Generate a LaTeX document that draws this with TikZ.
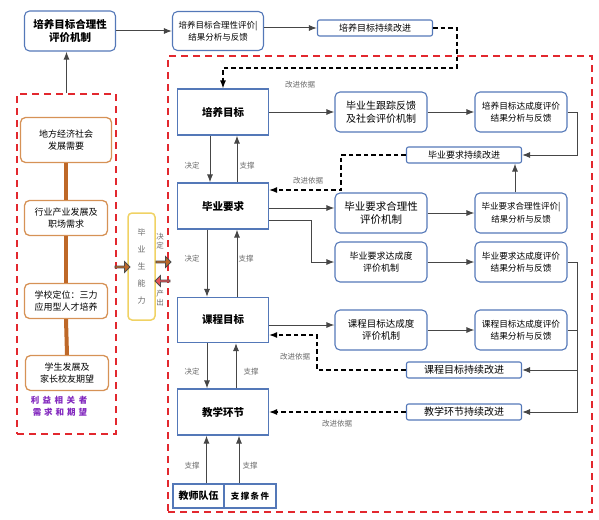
\documentclass[tikz,border=0pt]{standalone}
\usepackage{fontspec}
\setmainfont{Noto Sans CJK SC}
\usetikzlibrary{arrows.meta,shapes.arrows}
\definecolor{boxblue}{RGB}{84,120,184}
\definecolor{zonered}{RGB}{226,40,46}
\definecolor{needorange}{RGB}{214,146,86}
\definecolor{chainbrown}{RGB}{190,104,40}
\definecolor{abilityyellow}{RGB}{240,210,100}
\definecolor{linkgray}{RGB}{70,70,70}
\definecolor{taggray}{RGB}{105,105,105}
\definecolor{stakepurple}{RGB}{130,40,190}
\tikzset{
  fs/.style={font=\fontsize{#1}{12.5}\selectfont},
  mainbox/.style={draw=boxblue, line width=1.1pt, minimum width=91pt, minimum height=46pt, font=\fontsize{10.5}{13}\selectfont\bfseries},
  evalbox/.style={draw=boxblue, line width=1.1pt, rounded corners=5pt, minimum width=92pt, minimum height=40pt, align=center, inner sep=1pt},
  fixbox/.style={draw=boxblue, line width=1.1pt, rounded corners=2pt, minimum width=115pt, minimum height=16pt, inner sep=0pt, fs=9},
  needbox/.style={draw=needorange, line width=1.3pt, rounded corners=5pt, minimum width=83pt, minimum height=35pt, align=center, fs=9, inner sep=1pt},
  zone/.style={draw=zonered, line width=1.7pt, dash pattern=on 7pt off 5pt},
  link/.style={draw=linkgray, line width=1pt, -{Latex[length=8pt,width=6pt]}},
  back/.style={link, dash pattern=on 4.5pt off 3pt, line width=1.3pt, draw=black},
  chain/.style={draw=chainbrown, line width=4pt},
  tag/.style={text=taggray, fs=7.5, inner sep=0pt},
  blockarrow/.style={shape=single arrow, draw=black!70, line width=0.8pt, minimum height=15pt, minimum width=11pt, single arrow head extend=2pt, inner sep=0pt}
}
\begin{document}
\begin{tikzpicture}[x=1pt,y=-1pt]
\useasboundingbox (0,0) rectangle (599,519);
\node[evalbox, minimum width=91pt, font=\fontsize{10.5}{13}\selectfont\bfseries] (ratePlan) at (70,31) {培养目标合理性\\评价机制};
\node[evalbox, minimum width=91pt, minimum height=39pt, fs=8.5] (rateRes) at (218,31) {培养目标合理性评价|\\结果分析与反馈};
\node[fixbox] (rateFix) at (375,28) {培养目标持续改进};
\draw[link] (ratePlan.east) -- (rateRes.west);
\draw[link] (rateRes.east |- rateFix.west) -- (rateFix.west);

\node[zone, minimum width=99pt, minimum height=340pt] (stake) at (66.5,264) {};
\node[zone, minimum width=424pt, minimum height=456pt] (core) at (380,284) {};
\draw[link] (stake.north) -- (stake.north |- ratePlan.south);

\node[needbox, minimum width=91pt, minimum height=45pt] (local) at (66,140) {地方经济社会\\发展需要};
\node[needbox] (industry) at (66,218) {行业产业发展及\\职场需求};
\node[needbox] (school) at (66,301) {学校定位：三力\\应用型人才培养};
\node[needbox] (family) at (67,373) {学生发展及\\家长校友期望};
\draw[chain] (local.south) -- (industry.north);
\draw[chain] (industry.south) -- (school.north);
\draw[chain] (school.south) -- (family.north);
\node[text=stakepurple, align=left, font=\fontsize{8.5}{12}\selectfont\bfseries] (stakeTag) at (59,406) {利\hspace{3.5pt}益\hspace{3.5pt}相\hspace{3.5pt}关\hspace{3.5pt}者\\\hspace{2pt}需\hspace{3pt}求\hspace{3pt}和\hspace{3pt}期\hspace{3pt}望};

\node[draw=abilityyellow, line width=1.5pt, rounded corners=4pt, minimum width=27pt, minimum height=107pt, text=taggray, align=center, font=\fontsize{8}{17}\selectfont] (ability) at (141.5,266.5) {毕\\业\\生\\能\\力};
\node[blockarrow, fill=chainbrown] (feedIn) at (122,267) {};
\node[blockarrow, fill=chainbrown] (decideOut) at (163,262) {};
\node[blockarrow, fill=zonered!80, shape border rotate=180] (outputIn) at (163,281) {};
\node[tag, align=center, font=\fontsize{7.5}{9}\selectfont] (decideTag) at (160,241) {决\\定};
\node[tag, align=center, font=\fontsize{7.5}{9}\selectfont] (outputTag) at (160,298) {产\\出};

\node[mainbox] (goal) at (223,112) {培养目标};
\node[mainbox] (req) at (223,206) {毕业要求};
\node[mainbox, minimum height=45pt] (course) at (223,320) {课程目标};
\node[mainbox] (teach) at (223,412) {教学环节};
\node[draw=boxblue, line width=1.1pt, minimum width=51pt, minimum height=24pt, inner sep=0pt, font=\fontsize{10}{12}\selectfont\bfseries] (staff) at (198.5,496) {教师队伍};
\node[draw=boxblue, line width=1.1pt, minimum width=52pt, minimum height=24pt, inner sep=0pt, font=\fontsize{8.5}{12}\selectfont\bfseries] (cond) at (250,496) {支\,撑\,条\,件};

\draw[link] ([xshift=-13pt]goal.south) -- ([xshift=-13pt]req.north);
\draw[link] ([xshift=14pt]req.north) -- ([xshift=14pt]goal.south);
\draw[link] ([xshift=-16pt]req.south) -- ([xshift=-16pt]course.north);
\draw[link] ([xshift=14pt]course.north) -- ([xshift=14pt]req.south);
\draw[link] ([xshift=-16pt]course.south) -- ([xshift=-16pt]teach.north);
\draw[link] ([xshift=13pt]teach.north) -- ([xshift=13pt]course.south);
\draw[link] ([xshift=8pt]staff.north) -- ([xshift=8pt]staff.north |- teach.south);
\draw[link] ([xshift=-11pt]cond.north) -- ([xshift=-11pt]cond.north |- teach.south);
\node[tag] (d1) at (192,166) {决定}; \node[tag] (s1) at (247,166) {支撑};
\node[tag] (d2) at (192,259) {决定}; \node[tag] (s2) at (246,259) {支撑};
\node[tag] (d3) at (192,372) {决定}; \node[tag] (s3) at (251,372) {支撑};
\node[tag] (s4) at (192,466) {支撑}; \node[tag] (s5) at (250,466) {支撑};

\node[evalbox, fs=10] (trackEval) at (381,112) {毕业生跟踪反馈\\及社会评价机制};
\node[evalbox, fs=8.7] (goalRes) at (521,112) {培养目标达成度评价\\结果分析与反馈};
\node[fixbox] (reqFix) at (464,155) {毕业要求持续改进};
\node[evalbox, fs=10.5] (reqRate) at (381,213) {毕业要求合理性\\评价机制};
\node[evalbox, fs=8.5] (reqRateRes) at (521,213) {毕业要求合理性评价|\\结果分析与反馈};
\node[evalbox, fs=9] (reqEval) at (381,262) {毕业要求达成度\\评价机制};
\node[evalbox, fs=8.7] (reqRes) at (521,262) {毕业要求达成度评价\\结果分析与反馈};
\node[evalbox, fs=9.5] (courseEval) at (381,330) {课程目标达成度\\评价机制};
\node[evalbox, fs=8.7] (courseRes) at (521,330) {课程目标达成度评价\\结果分析与反馈};
\node[fixbox, fs=10] (courseFix) at (464,370) {课程目标持续改进};
\node[fixbox, fs=10] (teachFix) at (464,412) {教学环节持续改进};

\draw[link] (goal.east) -- (trackEval.west);
\draw[link] (trackEval.east) -- (goalRes.west);
\draw[link] (goalRes.east) -- ++(10,0) |- (reqFix.east);
\draw[link] ([xshift=-6pt]reqRateRes.north) -- ([xshift=-6pt]reqRateRes.north |- reqFix.south);
\draw[link] ([yshift=-2pt]req.east) -- ([yshift=-2pt]req.east -| reqRate.west);
\draw[link] ([yshift=-14pt]req.east) -- ++(42,0) |- (reqEval.west);
\draw[link] (reqRate.east) -- (reqRateRes.west);
\draw[link] (reqEval.east) -- (reqRes.west);
\draw[link] ([yshift=-5pt]course.east) -- ([yshift=-5pt]course.east -| courseEval.west);
\draw[link] (courseEval.east) -- (courseRes.west);
\draw[link] (reqRes.east) -- ++(10,0) |- (teachFix.east);
\draw[link] (courseRes.east) -- ++(10,0) |- (courseFix.east);

\coordinate (topTurn) at (457,68);
\coordinate (reqTurn) at (341,190);
\coordinate (courseTurn) at (317,335);
\draw[back] (rateFix.east) -| (topTurn) -| (goal.north);
\draw[back] (reqFix.west) -| (reqTurn) -- (req.east |- reqTurn);
\draw[back] (courseFix.west) -| (courseTurn) -- (course.east |- courseTurn);
\draw[back] (teachFix.west) -- (teach.east);
\node[tag] (basis1) at (300,85) {改进依据};
\node[tag] (basis2) at (308,181) {改进依据};
\node[tag] (basis3) at (295,357) {改进依据};
\node[tag] (basis4) at (337,424) {改进依据};
\end{tikzpicture}
\end{document}
